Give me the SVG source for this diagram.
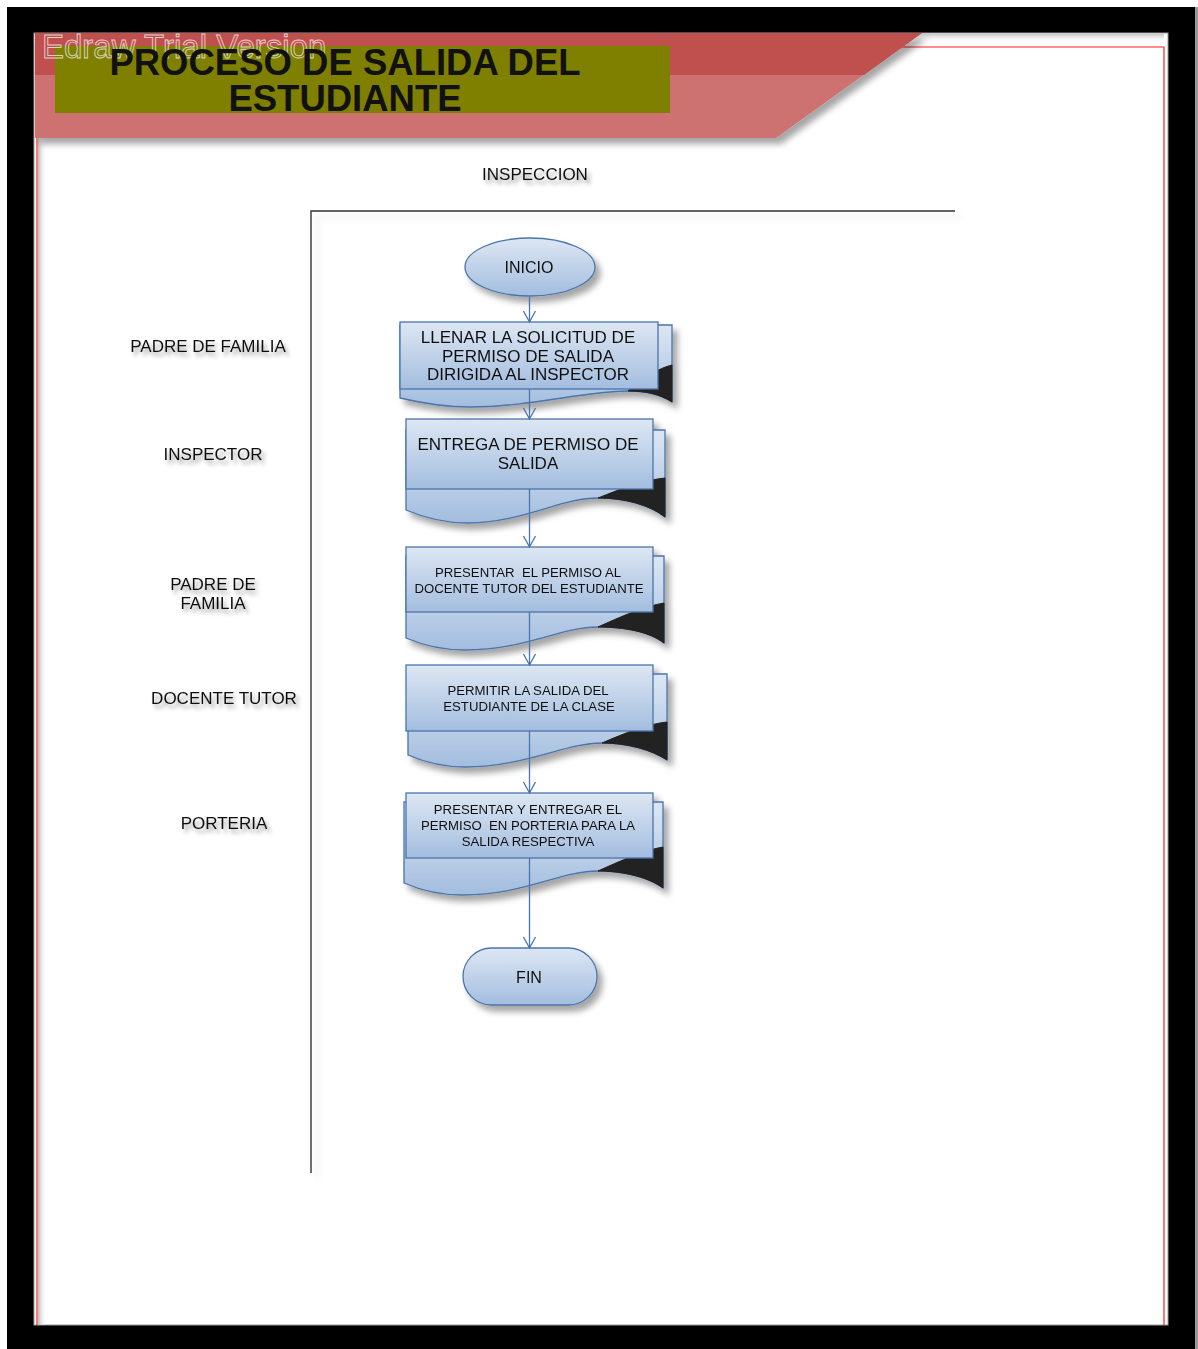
<svg xmlns="http://www.w3.org/2000/svg" width="1198" height="1349" viewBox="0 0 1198 1349">
  <defs>
    <style>
      .lbl { font-family: "Liberation Sans", Arial, sans-serif; fill: #111; text-anchor: middle; }
      .lane { font-size: 17px; filter: url(#tshadow); }
      .big { font-size: 17px; }
      .small { font-size: 13.2px; white-space: pre; }
      .shape { fill: url(#blueGrad); stroke: #4a74ad; stroke-width: 1.3; }
      .curl { fill: #202020; stroke: #202020; stroke-width: 1; }
      .conn { fill: none; stroke: #4a74ad; stroke-width: 1.3; marker-end: url(#arr); }
      .lanes { fill: none; stroke: #333; stroke-width: 1.4; }
    </style>
    <linearGradient id="blueGrad" x1="0" y1="0" x2="0" y2="1">
      <stop offset="0" stop-color="#dde7f3"/>
      <stop offset="1" stop-color="#a3bddf"/>
    </linearGradient>
    <linearGradient id="leftShade" x1="0" y1="0" x2="1" y2="0">
      <stop offset="0" stop-color="#bdbdbd"/>
      <stop offset="1" stop-color="#ffffff" stop-opacity="0"/>
    </linearGradient>
    <linearGradient id="topShade" x1="0" y1="0" x2="0" y2="1">
      <stop offset="0" stop-color="#c8c8c8"/>
      <stop offset="1" stop-color="#ffffff" stop-opacity="0"/>
    </linearGradient>
    <filter id="shadow" x="-10%" y="-10%" width="130%" height="140%">
      <feGaussianBlur in="SourceAlpha" stdDeviation="3"/>
      <feOffset dx="5" dy="6" result="b"/>
      <feFlood flood-color="#000" flood-opacity="0.35"/>
      <feComposite in2="b" operator="in"/>
      <feMerge><feMergeNode/><feMergeNode in="SourceGraphic"/></feMerge>
    </filter>
    <filter id="tshadow" x="-10%" y="-40%" width="130%" height="200%">
      <feGaussianBlur in="SourceAlpha" stdDeviation="2"/>
      <feOffset dx="3" dy="4" result="b"/>
      <feFlood flood-color="#000" flood-opacity="0.4"/>
      <feComposite in2="b" operator="in"/>
      <feMerge><feMergeNode/><feMergeNode in="SourceGraphic"/></feMerge>
    </filter>
    <filter id="lineShadow" x="-200%" y="-5%" width="500%" height="110%">
      <feGaussianBlur in="SourceAlpha" stdDeviation="3"/>
      <feOffset dx="6" dy="6" result="b"/>
      <feFlood flood-color="#000" flood-opacity="0.12"/>
      <feComposite in2="b" operator="in"/>
      <feMerge><feMergeNode/><feMergeNode in="SourceGraphic"/></feMerge>
    </filter>
    <marker id="arr" markerUnits="userSpaceOnUse" markerWidth="14" markerHeight="14" viewBox="0 0 14 14" refX="12" refY="7" orient="auto">
      <path d="M1,1 L12,7 L1,13" fill="none" stroke="#4a74ad" stroke-width="1.3"/>
    </marker>
  </defs>

  <!-- page background and frame -->
  <rect x="0" y="0" width="1198" height="1349" fill="#ffffff"/>
  <rect x="7" y="7" width="1188" height="1342" fill="#000"/>
  <rect x="1195" y="7" width="3" height="1342" fill="#9a9a9a"/>
  <rect x="34" y="33" width="1134" height="1292" fill="#ffffff" stroke="#9a9a9a" stroke-width="1"/>
  <rect x="38" y="33" width="9" height="1292" fill="url(#leftShade)"/>
  <rect x="34" y="34" width="1130" height="9" fill="url(#topShade)"/>
  <path d="M37,1325 V47 H1164 V1325" fill="none" stroke="#ff2020" stroke-width="1.2"/>

  <!-- title band -->
  <g id="header">
    <g filter="url(#shadow)">
      <polygon points="35,33 922,33 776,138 35,138" fill="#cd7270"/>
    </g>
    <polygon points="35,33 922,33 864,75 35,75" fill="#c0504d"/>
    <rect x="55" y="46" width="615" height="67" fill="#808000"/>
    <text x="42" y="58" font-family="Liberation Sans, Arial, sans-serif" font-size="33" fill="none" stroke="#eeeeee" stroke-opacity="0.8" stroke-width="0.9">Edraw Trial Version</text>
    <text class="lbl" x="345" y="75" font-size="36.5" font-weight="bold" fill="#000">PROCESO DE SALIDA DEL</text>
    <text class="lbl" x="345" y="111" font-size="36.5" font-weight="bold" fill="#000">ESTUDIANTE</text>
  </g>

  <!-- swimlane frame and labels -->
  <g id="lanes">
    <path class="lanes" d="M955,211 H311 V1173" filter="url(#lineShadow)"/>
    <text class="lbl lane" x="535" y="180">INSPECCION</text>
    <text class="lbl lane" x="208" y="352">PADRE DE FAMILIA</text>
    <text class="lbl lane" x="213" y="460">INSPECTOR</text>
    <text class="lbl lane" x="213" y="590">PADRE DE</text>
    <text class="lbl lane" x="213" y="609">FAMILIA</text>
    <text class="lbl lane" x="224" y="704">DOCENTE TUTOR</text>
    <text class="lbl lane" x="224" y="829">PORTERIA</text>
  </g>

  <!-- start -->
  <g id="inicio" filter="url(#shadow)">
    <ellipse class="shape" cx="530" cy="267" rx="65" ry="29"/>
    <text class="lbl" x="529" y="273" font-size="16">INICIO</text>
  </g>

  <!-- step 1 -->
  <g id="paso1" filter="url(#shadow)">
    <path class="shape" d="M400,325 H672 V402 C660,394 645,391 628,391 C585,391 530,407 470,407 C440,407 417,402 400,398 Z"/>
    <path class="curl" d="M628,391 C645,376 660,368 672,365 V402 C660,394 645,391 628,391 Z"/>
    <rect class="shape" x="400" y="322" width="258" height="67"/>
    <text class="lbl big" x="528" y="343">LLENAR LA SOLICITUD DE</text>
    <text class="lbl big" x="528" y="362">PERMISO DE SALIDA</text>
    <text class="lbl big" x="528" y="380">DIRIGIDA AL INSPECTOR</text>
  </g>

  <!-- step 2 -->
  <g id="paso2" filter="url(#shadow)">
    <path class="shape" d="M406,430 H665 V517 C650,505 625,498 598,498 C560,498 525,522 468,523 C440,523 420,516 406,510 Z"/>
    <path class="curl" d="M598,498 C620,489 645,480 665,478 V517 C650,505 625,498 598,498 Z"/>
    <rect class="shape" x="406" y="419" width="247" height="70"/>
    <text class="lbl big" x="528" y="450">ENTREGA DE PERMISO DE</text>
    <text class="lbl big" x="528" y="469">SALIDA</text>
  </g>

  <!-- step 3 -->
  <g id="paso3" filter="url(#shadow)">
    <path class="shape" d="M406,556 H664 V643 C650,632 625,627 598,627 C560,627 525,650 465,650 C440,650 420,644 406,638 Z"/>
    <path class="curl" d="M598,627 C620,617 645,606 664,603 V643 C650,632 625,627 598,627 Z"/>
    <rect class="shape" x="406" y="547" width="247" height="65"/>
    <text class="lbl small" x="528" y="577">PRESENTAR  EL PERMISO AL</text>
    <text class="lbl small" x="529" y="593">DOCENTE TUTOR DEL ESTUDIANTE</text>
  </g>

  <!-- step 4 -->
  <g id="paso4" filter="url(#shadow)">
    <path class="shape" d="M408,674 H667 V760 C652,750 628,743 602,743 C565,743 525,767 465,767 C440,767 422,761 408,755 Z"/>
    <path class="curl" d="M602,743 C625,733 648,724 667,722 V760 C652,750 628,743 602,743 Z"/>
    <rect class="shape" x="406" y="665" width="247" height="66"/>
    <text class="lbl small" x="528" y="695">PERMITIR LA SALIDA DEL</text>
    <text class="lbl small" x="529" y="711">ESTUDIANTE DE LA CLASE</text>
  </g>

  <!-- step 5 -->
  <g id="paso5" filter="url(#shadow)">
    <path class="shape" d="M404,802 H663 V888 C650,878 625,871 598,871 C560,871 525,895 462,895 C438,895 418,889 404,883 Z"/>
    <path class="curl" d="M598,871 C620,861 645,850 663,847 V888 C650,878 625,871 598,871 Z"/>
    <rect class="shape" x="406" y="793" width="247" height="65"/>
    <text class="lbl small" x="528" y="814">PRESENTAR Y ENTREGAR EL</text>
    <text class="lbl small" x="528" y="830">PERMISO  EN PORTERIA PARA LA</text>
    <text class="lbl small" x="528" y="846">SALIDA RESPECTIVA</text>
  </g>

  <!-- end -->
  <g id="fin" filter="url(#shadow)">
    <rect class="shape" x="463" y="948" width="134" height="57" rx="28.5" ry="28.5"/>
    <text class="lbl" x="529" y="983" font-size="16">FIN</text>
  </g>

  <!-- connectors -->
  <g id="connectors">
    <path class="conn" d="M529.5,297 V322"/>
    <path class="conn" d="M529.5,389 V419"/>
    <path class="conn" d="M529.5,489 V547"/>
    <path class="conn" d="M529.5,612 V665"/>
    <path class="conn" d="M529.5,731 V793"/>
    <path class="conn" d="M529.5,858 V948"/>
  </g>
</svg>
